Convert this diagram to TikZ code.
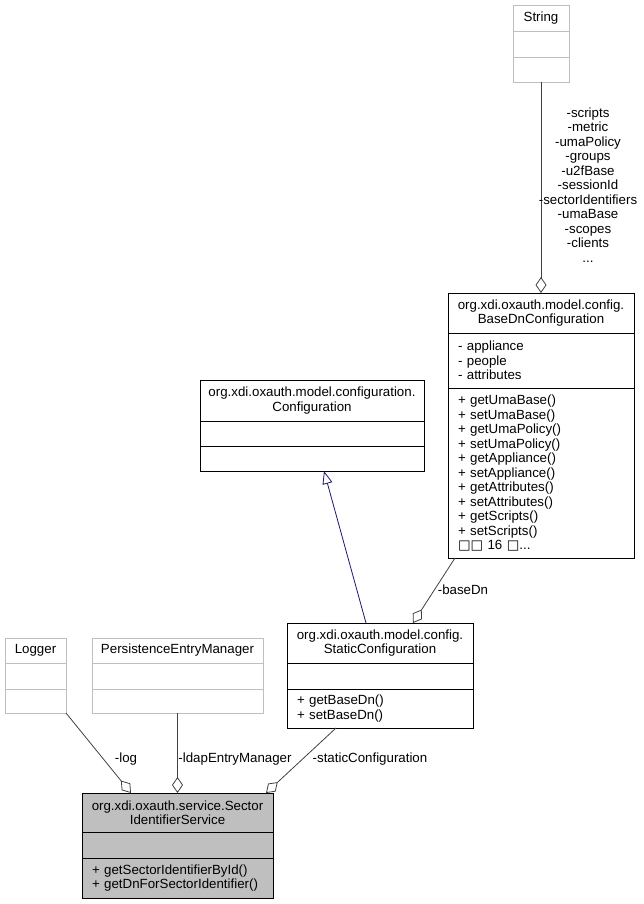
\documentclass[tikz,border=0pt]{standalone}
\usepackage{fontspec}
\setmainfont{Liberation Sans}
\newfontfamily\symfont{DejaVu Sans}
\usetikzlibrary{positioning, arrows.meta}

\definecolor{grey75}{HTML}{BFBFBF}
\definecolor{edgegrey}{HTML}{404040}
\definecolor{midnightblue}{HTML}{191970}

\begin{document}
\begin{tikzpicture}[x=1pt, y=-1pt, font=\fontsize{13.3}{14.5}\selectfont]

% definitions
\tikzstyle{classtitle} = [rectangle, draw=black, fill=white, line width=0.8pt, text centered, align=center, inner xsep=4pt, inner ysep=2pt, outer sep=0pt]

\tikzstyle{classpart} = [rectangle, draw=black, fill=white, line width=0.8pt, align=left, inner xsep=10pt, inner ysep=2pt, outer sep=0pt]

\tikzstyle{ghost} = [draw=grey75]

\tikzstyle{focus} = [fill=grey75]

\tikzstyle{aggr} = [-{Diamond[open, length=16pt, width=11pt]}, draw=edgegrey, line width=0.8pt]

\tikzstyle{inherit} = [-{Triangle[open, length=13pt, width=10pt]}, draw=midnightblue, line width=0.8pt]

\useasboundingbox (0,0) rectangle (643,904);

% the graph
\node (strT) [classtitle, ghost, minimum width=56pt, minimum height=26pt] at (541,18) {String};
\node (strA) [classpart, ghost, minimum width=56pt, minimum height=26pt, below=0pt of strT] {};
\node (strM) [classpart, ghost, minimum width=56pt, minimum height=25pt, below=0pt of strA] {};

\node (bdnT) [classtitle, minimum width=186pt, minimum height=40pt] at (541,313) {org.xdi.oxauth.model.config.\\BaseDnConfiguration};
\node (bdnA) [classpart, text width=166pt, minimum height=55pt, below=0pt of bdnT] {- appliance\\- people\\- attributes};
\node (bdnM) [classpart, text width=166pt, minimum height=170pt, below=0pt of bdnA] {+ getUmaBase()\\+ setUmaBase()\\+ getUmaPolicy()\\+ setUmaPolicy()\\+ getAppliance()\\+ setAppliance()\\+ getAttributes()\\+ setAttributes()\\+ getScripts()\\+ setScripts()\\{\symfont □□} 16 {\symfont □}...};

\node (confT) [classtitle, minimum width=224pt, minimum height=41pt] at (312,400.5) {org.xdi.oxauth.model.configuration.\\Configuration};
\node (confA) [classpart, minimum width=224pt, minimum height=25pt, below=0pt of confT] {};
\node (confM) [classpart, minimum width=224pt, minimum height=25pt, below=0pt of confA] {};

\node (sconfT) [classtitle, minimum width=186pt, minimum height=40pt] at (380,643) {org.xdi.oxauth.model.config.\\StaticConfiguration};
\node (sconfA) [classpart, minimum width=186pt, minimum height=26pt, below=0pt of sconfT] {};
\node (sconfM) [classpart, text width=166pt, minimum height=39pt, below=0pt of sconfA] {+ getBaseDn()\\+ setBaseDn()};

\node (logT) [classtitle, ghost, minimum width=61pt, minimum height=25pt] at (35.5,650.5) {Logger};
\node (logA) [classpart, ghost, minimum width=61pt, minimum height=26pt, below=0pt of logT] {};
\node (logM) [classpart, ghost, minimum width=61pt, minimum height=24pt, below=0pt of logA] {};

\node (pemT) [classtitle, ghost, minimum width=171pt, minimum height=25pt] at (177.5,650.5) {PersistenceEntryManager};
\node (pemA) [classpart, ghost, minimum width=171pt, minimum height=26pt, below=0pt of pemT] {};
\node (pemM) [classpart, ghost, minimum width=171pt, minimum height=24pt, below=0pt of pemA] {};

\node (servT) [classtitle, focus, minimum width=191pt, minimum height=39pt] at (177.5,812.5) {org.xdi.oxauth.service.Sector\\IdentifierService};
\node (servA) [classpart, focus, minimum width=191pt, minimum height=26pt, below=0pt of servT] {};
\node (servM) [classpart, focus, text width=171pt, minimum height=40pt, below=0pt of servA] {+ getSectorIdentifierById()\\+ getDnForSectorIdentifier()};

\draw [aggr] (strM.south) -- (bdnT.north);
\draw [aggr] ([xshift=7pt]bdnM.south west) -- ([xshift=126pt]sconfT.north west);
\draw [inherit] ([xshift=79pt]sconfT.north west) -- ([xshift=124pt]confM.south west);
\draw [aggr] (logM.south east) -- ([xshift=49pt]servT.north west);
\draw [aggr] (pemM.south) -- (servT.north);
\draw [aggr] ([xshift=49pt]sconfM.south west) -- ([xshift=184pt]servT.north west);

\node (strLabel) [align=center] at (588,185) {-scripts\\-metric\\-umaPolicy\\-groups\\-u2fBase\\-sessionId\\-sectorIdentifiers\\-umaBase\\-scopes\\-clients\\...};
\node (baseLabel) at (463,590) {-baseDn};
\node (logLabel) at (126,759) {-log};
\node (ldapLabel) at (235,759) {-ldapEntryManager};
\node (staticLabel) at (370,759) {-staticConfiguration};

\end{tikzpicture}
\end{document}
